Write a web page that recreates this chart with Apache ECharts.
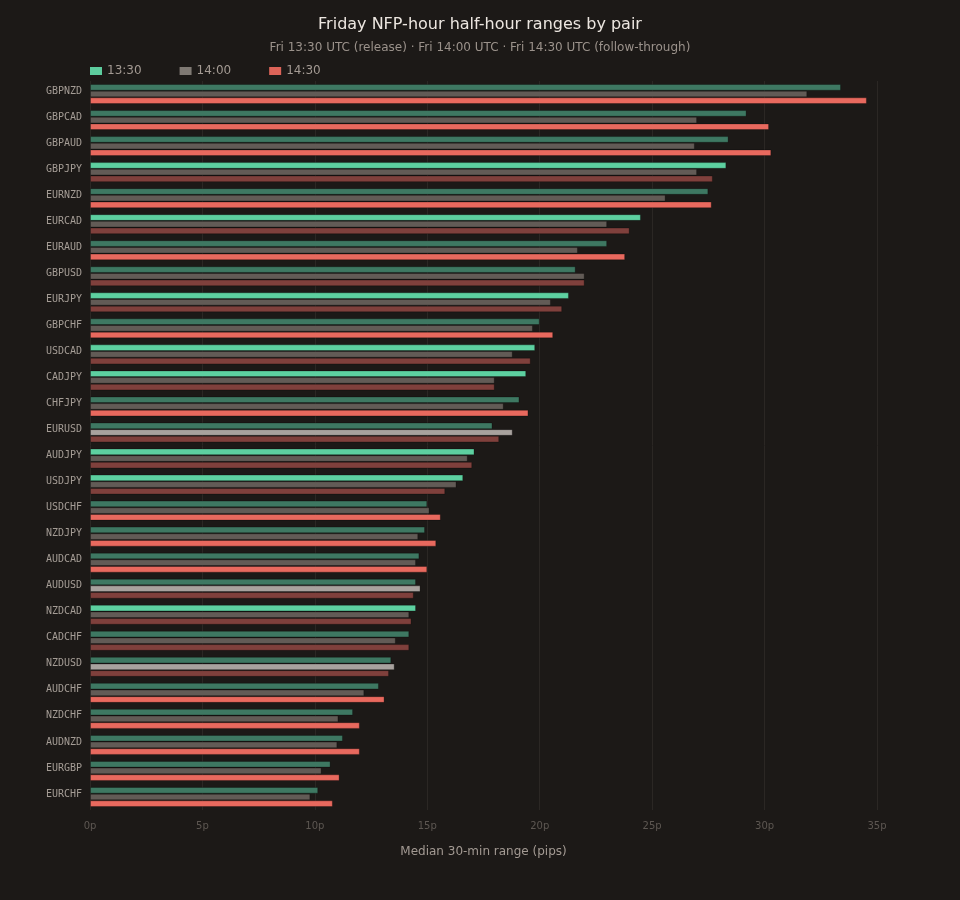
<!DOCTYPE html>
<html>
<head>
<meta charset="utf-8">
<script src="https://cdn.jsdelivr.net/npm/echarts@6/dist/echarts.min.js"></script>
<style>
html,body{margin:0;padding:0;background:#1c1917;}
#chart{width:960px;height:900px;}
</style>
</head>
<body>
<div id="chart"></div>
<script>
var pairs = ["GBPNZD","GBPCAD","GBPAUD","GBPJPY","EURNZD","EURCAD","EURAUD","GBPUSD","EURJPY","GBPCHF","USDCAD","CADJPY","CHFJPY","EURUSD","AUDJPY","USDJPY","USDCHF","NZDJPY","AUDCAD","AUDUSD","NZDCAD","CADCHF","NZDUSD","AUDCHF","NZDCHF","AUDNZD","EURGBP","EURCHF"];
var r1330 = [33.4,29.2,28.4,28.3,27.5,24.5,23.0,21.6,21.3,20.0,19.8,19.4,19.1,17.9,17.1,16.6,15.0,14.9,14.65,14.5,14.5,14.2,13.4,12.85,11.7,11.25,10.7,10.15];
var r1400 = [31.9,27.0,26.9,27.0,25.6,23.0,21.7,22.0,20.5,19.7,18.8,18.0,18.4,18.8,16.8,16.3,15.1,14.6,14.5,14.7,14.2,13.6,13.55,12.2,11.05,11.0,10.3,9.8];
var r1430 = [34.55,30.2,30.3,27.7,27.65,24.0,23.8,22.0,21.0,20.6,19.6,18.0,19.5,18.2,17.0,15.8,15.6,15.4,15.0,14.4,14.3,14.2,13.3,13.1,12.0,12.0,11.1,10.8];
var seriesNames = ["13:30","14:00","14:30"];
var xTicks = {min:0, max:35, interval:5, suffix:"p"};

var bright = ["#5dd0a0","#a8a29e","#e8695e"];
var dim = ["#3e7862","#625b56","#7f403c"];
var legendCol = ["#5dcc9e","#7f7973","#dc6358"];

var all = [r1330, r1400, r1430];
function build(si){
  return all[si].map(function(v, i){
    var others = all.filter(function(_, k){return k!==si;}).map(function(a){return a[i];});
    var isMax = others.every(function(o){return v > o;});
    return {value: v, itemStyle: {color: isMax ? bright[si] : dim[si]}};
  });
}

var chart = echarts.init(document.getElementById('chart'), null, {renderer:'canvas'});
chart.setOption({
  backgroundColor: '#1c1917',
  animation: false,
  title: {
    text: 'Friday NFP-hour half-hour ranges by pair',
    subtext: 'Fri 13:30 UTC (release) · Fri 14:00 UTC · Fri 14:30 UTC (follow-through)',
    left: 'center',
    top: 12,
    itemGap: 9,
    textStyle: {color:'#ece6e0', fontSize:16, fontWeight:'normal', fontFamily:'DejaVu Sans'},
    subtextStyle: {color:'#9b928b', fontSize:12, fontFamily:'DejaVu Sans'}
  },
  legend: {
    left: 90,
    top: 65,
    padding: 0,
    icon: 'rect',
    itemWidth: 12,
    itemHeight: 8,
    itemGap: 38,
    textStyle: {color:'#a39a93', fontSize:12, fontFamily:'DejaVu Sans'},
    data: seriesNames.map(function(n, i){return {name:n, itemStyle:{color:legendCol[i], borderWidth:0}};})
  },
  grid: {left:90, right:83, top:81, bottom:90, containLabel:false},
  xAxis: {
    type: 'value',
    min: xTicks.min, max: xTicks.max, interval: xTicks.interval,
    name: 'Median 30-min range (pips)',
    nameLocation: 'middle',
    nameGap: 36,
    nameTextStyle: {color:'#a39a93', fontSize:12, fontFamily:'DejaVu Sans'},
    axisLine: {show:false},
    axisTick: {show:false},
    axisLabel: {color:'#5d5752', fontSize:10, fontFamily:'DejaVu Sans', margin:11,
      formatter: function(v){return v + xTicks.suffix;}},
    splitLine: {show:true, lineStyle:{color:'#2b2724', width:1}}
  },
  yAxis: {
    type: 'category',
    data: pairs,
    inverse: true,
    axisLine: {show:false},
    axisTick: {show:false},
    axisLabel: {color:'#a59d96', fontSize:10, fontFamily:'DejaVu Sans Mono', margin:8, verticalAlign:'bottom', lineHeight:6},
    splitLine: {show:false}
  },
  series: seriesNames.map(function(n, si){
    return {
      name: n,
      type: 'bar',
      barWidth: 6.67,
      barGap: '0%',
      itemStyle: {color: legendCol[si], borderColor:'rgba(0,0,0,0.28)', borderWidth:1},
      emphasis: {disabled:true},
      data: build(si)
    };
  })
});
</script>
</body>
</html>
